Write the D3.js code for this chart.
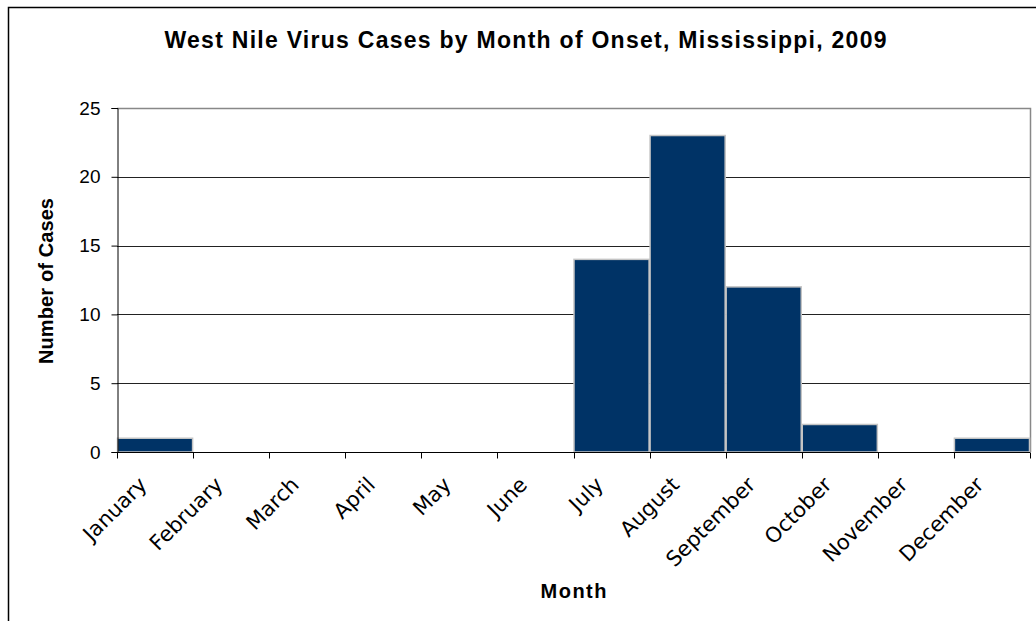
<!DOCTYPE html>
<html>
<head>
<meta charset="utf-8">
<script src="https://cdn.jsdelivr.net/npm/d3@7"></script>
<style>
  html, body { margin: 0; padding: 0; background: #fff; }
  svg { display: block; }
</style>
</head>
<body>
<svg id="chart" width="1036" height="621"></svg>
<script>
// West Nile virus cases in Mississippi, 2009, by month of onset
const months = ["January", "February", "March", "April", "May", "June",
                "July", "August", "September", "October", "November", "December"];
const cases = [1, 0, 0, 0, 0, 0, 14, 23, 12, 2, 0, 1];
const yTicks = [0, 5, 10, 15, 20, 25];

const svg = d3.select("#chart");
const plot = { left: 117, right: 1030, top: 108, bottom: 452 };

// outer chart frame (runs past the right and bottom edges)
svg.append("rect")
  .attr("x", 8.5).attr("y", 7.5)
  .attr("width", 1200).attr("height", 800)
  .attr("fill", "#fff")
  .attr("stroke", "#000").attr("stroke-width", 1.5);

const x = d3.scaleBand().domain(months).range([plot.left, plot.right]).padding(0);
const y = d3.scaleLinear().domain([0, 25]).range([plot.bottom, plot.top]);

// horizontal gridlines
svg.append("g")
  .selectAll("line")
  .data(yTicks.filter(t => t > 0 && t < 25))
  .join("line")
  .attr("x1", plot.left).attr("x2", plot.right)
  .attr("y1", d => Math.round(y(d)) + 0.5).attr("y2", d => Math.round(y(d)) + 0.5)
  .attr("stroke", "#222").attr("stroke-width", 1);

// plot area border on top and right
svg.append("path")
  .attr("d", `M${plot.left},${plot.top + 0.5}H${plot.right + 0.5}V${plot.bottom}`)
  .attr("fill", "none").attr("stroke", "#888").attr("stroke-width", 1.5);

// bars
svg.append("g")
  .selectAll("rect")
  .data(cases.map((v, i) => ({ month: months[i], value: v })).filter(d => d.value > 0))
  .join("rect")
  .attr("x", d => x(d.month) + 0.5)
  .attr("y", d => y(d.value))
  .attr("width", x.bandwidth() - 1)
  .attr("height", d => y(0) - y(d.value))
  .attr("fill", "#003366")
  .attr("stroke", "#c4c4c4").attr("stroke-width", 1.5);

// y axis
const yAxis = d3.axisLeft(y).tickValues(yTicks).tickSize(6).tickPadding(11)
  .tickFormat(d3.format("d"));
const gy = svg.append("g").attr("transform", `translate(${plot.left + 0.5},0)`).call(yAxis);
gy.select(".domain").attr("stroke", "#000");
gy.selectAll(".tick line").attr("stroke", "#000");
gy.selectAll(".tick text")
  .attr("font-family", "'Liberation Sans', Arial, sans-serif")
  .attr("font-size", 19).attr("fill", "#000");

// x axis: ticks on category boundaries
const gx = svg.append("g").attr("transform", `translate(0,${plot.bottom + 0.5})`);
gx.append("line")
  .attr("x1", plot.left).attr("x2", plot.right)
  .attr("stroke", "#000");
gx.selectAll("line.tick")
  .data(months.map(m => x(m)).concat([plot.right]))
  .join("line")
  .attr("class", "tick")
  .attr("x1", d => Math.round(d) + 0.5).attr("x2", d => Math.round(d) + 0.5)
  .attr("y1", 0).attr("y2", 6)
  .attr("stroke", "#000");

// month labels, rotated 45°, ending just left of each category centre
svg.append("g")
  .selectAll("text")
  .data(months)
  .join("text")
  .attr("transform", d => `translate(${x(d) + x.bandwidth() / 2 - 7},486) rotate(-45)`)
  .attr("text-anchor", "end")
  .attr("font-family", "'DejaVu Sans', sans-serif")
  .attr("font-size", 21)
  .attr("fill", "#000")
  .text(d => d);

// titles
svg.append("text")
  .attr("x", 525.5).attr("y", 48)
  .attr("text-anchor", "middle")
  .attr("font-family", "'Liberation Sans', Arial, sans-serif")
  .attr("font-weight", "bold").attr("font-size", 23)
  .attr("textLength", 722).attr("lengthAdjust", "spacing")
  .text("West Nile Virus Cases by Month of Onset, Mississippi, 2009");

svg.append("text")
  .attr("transform", `translate(53,${(plot.top + plot.bottom) / 2 + 1}) rotate(-90)`)
  .attr("text-anchor", "middle")
  .attr("font-family", "'Liberation Sans', Arial, sans-serif")
  .attr("font-weight", "bold").attr("font-size", 20)
  .attr("textLength", 166).attr("lengthAdjust", "spacing")
  .text("Number of Cases");

svg.append("text")
  .attr("x", (plot.left + plot.right) / 2).attr("y", 598)
  .attr("text-anchor", "middle")
  .attr("font-family", "'Liberation Sans', Arial, sans-serif")
  .attr("font-weight", "bold").attr("font-size", 20)
  .attr("textLength", 66).attr("lengthAdjust", "spacing")
  .text("Month");
</script>
</body>
</html>
